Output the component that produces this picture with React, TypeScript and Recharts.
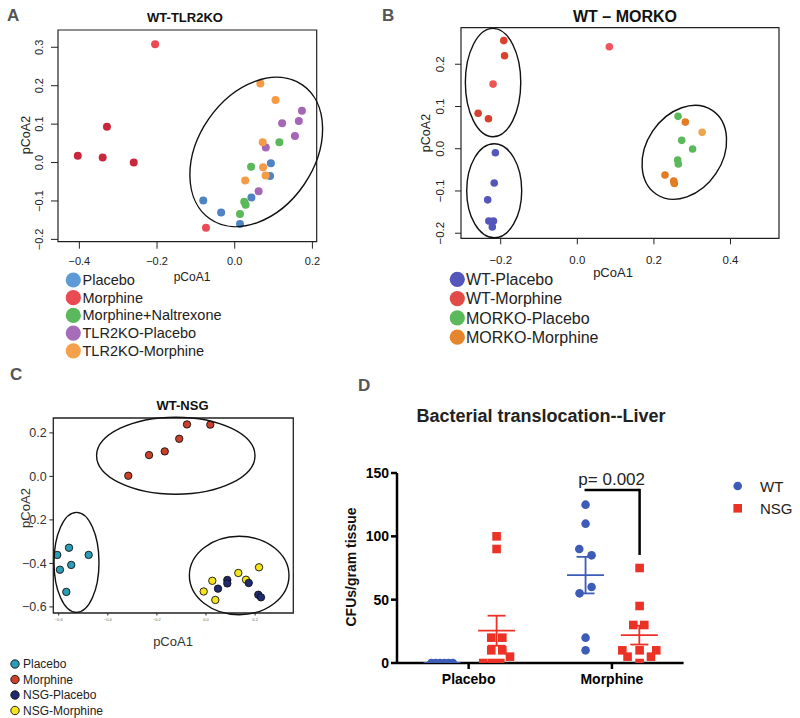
import React from "react";
import { ScatterChart, Scatter, XAxis, YAxis, ReferenceArea, ReferenceDot, ReferenceLine, ErrorBar } from "recharts";

const FONT = '"Liberation Sans", Arial, Helvetica, sans-serif';
const MINUS = "\u2212";
const fmt1 = (v: number) => (v < 0 ? MINUS : "") + Math.abs(v).toFixed(1);

// ---------- A: WT-TLR2KO, [pCoA1, pCoA2] ----------
const A_PLACEBO = [[-0.081, -0.099], [-0.035, -0.13], [0.0135, -0.16], [0.043, -0.091], [0.093, -0.002], [0.091, -0.035]];
const A_MORPHINE = [[-0.205, 0.308], [-0.404, 0.018], [-0.34, 0.013], [-0.329, 0.093], [-0.26, 0.0], [-0.074, -0.17]];
const A_MORPH_NALTREXONE = [[0.115, 0.053], [0.042, -0.011], [0.0245, -0.102], [0.028, -0.11], [0.0135, -0.134]];
const A_TLR2KO_PLACEBO = [[0.173, 0.135], [0.122, 0.102], [0.165, 0.108], [0.155, 0.069], [0.08, 0.039], [0.0615, -0.075]];
const A_TLR2KO_MORPHINE = [[0.066, 0.206], [0.105, 0.163], [0.072, 0.053], [0.073, -0.0125], [0.0795, -0.034], [0.027, -0.047]];
const A_X_TICKS = [-0.4, -0.2, 0, 0.2];
const A_Y_TICKS = [-0.2, -0.1, 0, 0.1, 0.2, 0.3];
const A_LABELS = ["Placebo", "Morphine", "Morphine+Naltrexone", "TLR2KO-Placebo", "TLR2KO-Morphine"];

// ---------- B: WT - MORKO ----------
const B_WT_PLACEBO = [[-0.214, -0.0095], [-0.217, -0.081], [-0.234, -0.121], [-0.231, -0.171], [-0.219, -0.171], [-0.222, -0.185]];
const B_WT_MORPHINE = [[-0.192, 0.256], [-0.19, 0.22], [-0.22, 0.153], [-0.259, 0.084], [-0.232, 0.071], [0.0836, 0.2414]];
const B_MORKO_PLACEBO = [[0.263, 0.0767], [0.2726, 0.0199], [0.301, -0.0007], [0.262, -0.0267], [0.2637, -0.036]];
const B_MORKO_MORPHINE = [[0.282, 0.063], [0.326, 0.0388], [0.229, -0.062], [0.2517, -0.0765], [0.2533, -0.082]];
const B_X_TICKS = [-0.2, 0, 0.2, 0.4];
const B_Y_TICKS = [-0.2, -0.1, 0, 0.1, 0.2];
const B_LABELS = ["WT-Placebo", "WT-Morphine", "MORKO-Placebo", "MORKO-Morphine"];

// ---------- C: WT-NSG ----------
const C_PLACEBO = [[-0.606, -0.361], [-0.558, -0.328], [-0.478, -0.361], [-0.595, -0.429], [-0.549, -0.407], [-0.569, -0.531]];
const C_MORPHINE = [[-0.3165, 0.003], [-0.232, 0.098], [-0.168, 0.115], [-0.109, 0.173], [-0.0774, 0.239], [0.0175, 0.238]];
const C_NSG_PLACEBO = [[0.0489, -0.516], [0.0868, -0.476], [0.0868, -0.492], [0.174, -0.49], [0.213, -0.544], [0.224, -0.556]];
const C_NSG_MORPHINE = [[-0.0094, -0.529], [0.0257, -0.48], [0.038, -0.568], [0.1316, -0.444], [0.216, -0.418], [0.163, -0.475]];
const C_X_TICKS = [-0.6, -0.4, -0.2, 0, 0.2];
const C_Y_TICKS = [-0.6, -0.4, -0.2, 0, 0.2];
const C_LABELS = ["Placebo", "Morphine", "NSG-Placebo", "NSG-Morphine"];

// ---------- D: Bacterial translocation (CFUs/gram tissue) ----------
const D_CATEGORIES = ["Placebo", "Morphine"];
const D_CAT_X = [1, 3];
const D_Y_TICKS = [0, 50, 100, 150];
const D_WT_PLACEBO = [0, 0, 0, 0, 0, 0];
const D_WT_PLACEBO_X = [0.48, 0.54, 0.6, 0.66, 0.72, 0.78];
const D_NSG_PLACEBO = [100, 90, 20, 20, 10, 10, 5, 0, 0, 0];
const D_NSG_PLACEBO_X = [1.39, 1.39, 1.316, 1.47, 1.316, 1.47, 1.577, 1.204, 1.326, 1.442];
const D_WT_MORPHINE = [125, 110, 90, 85, 60, 55, 20, 10];
const D_WT_MORPHINE_X = [2.632, 2.632, 2.544, 2.716, 2.716, 2.548, 2.632, 2.632];
const D_NSG_MORPHINE = [75, 45, 30, 30, 10, 10, 10, 5, 5, 0];
const D_NSG_MORPHINE_X = [3.386, 3.386, 3.298, 3.451, 3.145, 3.386, 3.619, 3.218, 3.545, 3.386];
const D_P_VALUE = "p= 0.002";

const WT_BLUE = "#3d5cb8";
const NSG_RED = "#ec3226";

type Pts = number[][];
type SeriesDef = { name: string; pts: Pts; fill: string | string[]; stroke?: string; r: number };
type EllipseDef = { x: number; y: number; rx: number; ry: number; rot: number };
type PcoaCfg = {
  box: number[]; yw: number; xh: number; mt: number; mr: number;
  xDomain: number[]; yDomain: number[]; xTicks: number[]; yTicks: number[];
  xTickSize: number; xTickMargin: number; yTickSize: number; yTickMargin: number;
  xFont: number; yFont: number; xColor: string; rotateY: boolean;
  series: SeriesDef[]; ellipses: EllipseDef[]; boxWidth: number;
};

const toXY = (s: SeriesDef) =>
  s.pts.map(([x, y], i) => ({ x, y, fill: Array.isArray(s.fill) ? s.fill[i] : s.fill }));

function RotTick(props: any) {
  const { x, y, payload, fs } = props;
  return (
    <text x={x} y={y} transform={`rotate(-90 ${x} ${y})`} textAnchor="middle" fontSize={fs} fill="#222" fontFamily={FONT}>
      {fmt1(payload.value)}
    </text>
  );
}

function PcoaChart({ cfg }: { cfg: PcoaCfg }) {
  const [x0, y0, x1, y1] = cfg.box;
  const width = x1 - x0 + cfg.yw + cfg.mr;
  const height = y1 - y0 + cfg.mt + cfg.xh;
  return (
    <div style={{ position: "absolute", left: x0 - cfg.yw, top: y0 - cfg.mt }}>
      <ScatterChart width={width} height={height} margin={{ top: cfg.mt, right: cfg.mr, bottom: 0, left: 0 }}>
        <XAxis
          type="number" dataKey="x" domain={cfg.xDomain} ticks={cfg.xTicks} allowDataOverflow interval={0}
          height={cfg.xh} axisLine={false} tickLine={{ stroke: "#222" }} tickSize={cfg.xTickSize} tickMargin={cfg.xTickMargin}
          tick={{ fontSize: cfg.xFont, fill: cfg.xColor, fontFamily: FONT }} tickFormatter={fmt1}
        />
        <YAxis
          type="number" dataKey="y" domain={cfg.yDomain} ticks={cfg.yTicks} allowDataOverflow interval={0}
          width={cfg.yw} axisLine={false} tickLine={{ stroke: "#222" }} tickSize={cfg.yTickSize} tickMargin={cfg.yTickMargin}
          tick={cfg.rotateY ? (p: any) => <RotTick {...p} fs={cfg.yFont} /> : { fontSize: cfg.yFont, fill: "#333", fontFamily: FONT }}
          tickFormatter={fmt1}
        />
        <ReferenceArea
          x1={cfg.xDomain[0]} x2={cfg.xDomain[1]} y1={cfg.yDomain[0]} y2={cfg.yDomain[1]}
          fill="none" stroke="#222" strokeWidth={cfg.boxWidth} ifOverflow="visible"
        />
        {cfg.series.map((s) => (
          <Scatter
            key={s.name} name={s.name} data={toXY(s)} isAnimationActive={false}
            shape={(p: any) => (
              <circle cx={p.cx} cy={p.cy} r={s.r} fill={p.payload.fill} stroke={s.stroke || "none"} strokeWidth={0.9} />
            )}
          />
        ))}
        {cfg.ellipses.map((e, i) => (
          <ReferenceDot
            key={i} x={e.x} y={e.y} r={1} ifOverflow="visible"
            shape={(p: any) => (
              <ellipse cx={p.cx} cy={p.cy} rx={e.rx} ry={e.ry} transform={`rotate(${e.rot} ${p.cx} ${p.cy})`} fill="none" stroke="#111" strokeWidth={1.4} />
            )}
          />
        ))}
      </ScatterChart>
    </div>
  );
}

const A_COLORS = ["#4f83c4", "#ea4a52", "#5cb85c", "#a566b6", "#f59b45"];
const A_LEGEND_COLORS = ["#5c9bd6", "#ea4a52", "#5cb85c", "#a66cb8", "#f5a04c"];
const A_CFG: PcoaCfg = {
  box: [58, 30, 316.7, 241.7], yw: 58, xh: 40, mt: 30, mr: 20,
  xDomain: [-0.455, 0.211], yDomain: [-0.206, 0.345], xTicks: A_X_TICKS, yTicks: A_Y_TICKS,
  xTickSize: 7, xTickMargin: 9, yTickSize: 7, yTickMargin: 7.7, xFont: 11, yFont: 11, xColor: "#222", rotateY: true, boxWidth: 1.2,
  series: [
    { name: A_LABELS[0], pts: A_PLACEBO, fill: A_COLORS[0], r: 4 },
    { name: A_LABELS[1], pts: A_MORPHINE, fill: ["#ec4b55", "#c9283c", "#c9283c", "#c9283c", "#c9283c", "#ec4b55"], r: 4 },
    { name: A_LABELS[2], pts: A_MORPH_NALTREXONE, fill: A_COLORS[2], r: 4 },
    { name: A_LABELS[3], pts: A_TLR2KO_PLACEBO, fill: A_COLORS[3], r: 4 },
    { name: A_LABELS[4], pts: A_TLR2KO_MORPHINE, fill: A_COLORS[4], r: 4 },
  ],
  ellipses: [{ x: 0.0554, y: 0.0276, rx: 81.4, ry: 57.9, rot: -55.5 }],
};

const B_COLORS = ["#5457b9", "#e24a48", "#5bb85b", "#e6862c"];
const B_CFG: PcoaCfg = {
  box: [461, 27.7, 779, 238.3], yw: 61, xh: 40, mt: 27.7, mr: 15,
  xDomain: [-0.3037, 0.5266], yDomain: [-0.212, 0.2865], xTicks: B_X_TICKS, yTicks: B_Y_TICKS,
  xTickSize: 6, xTickMargin: 11.5, yTickSize: 6, yTickMargin: 11, xFont: 11.5, yFont: 11.5, xColor: "#222", rotateY: true, boxWidth: 1.2,
  series: [
    { name: B_LABELS[0], pts: B_WT_PLACEBO, fill: B_COLORS[0], r: 3.8 },
    { name: B_LABELS[1], pts: B_WT_MORPHINE, fill: ["#d9432e", "#d9432e", "#ee5656", "#d6402f", "#d6402f", "#ee5560"], r: 3.8 },
    { name: B_LABELS[2], pts: B_MORKO_PLACEBO, fill: B_COLORS[2], r: 3.8 },
    { name: B_LABELS[3], pts: B_MORKO_MORPHINE, fill: ["#e27b22", "#efa54b", "#e27b22", "#e27b22", "#e27b22"], r: 3.8 },
  ],
  ellipses: [
    { x: -0.22, y: 0.1567, rx: 27.7, ry: 54.2, rot: 0 },
    { x: -0.217, y: -0.0994, rx: 27.5, ry: 47, rot: 0 },
    { x: 0.2794, y: -0.0085, rx: 38.1, ry: 50.4, rot: 33.7 },
  ],
};

const C_COLORS = ["#2b9db7", "#c9412b", "#1f2b6e", "#f5e41a"];
const C_CFG: PcoaCfg = {
  box: [53.3, 418.3, 293.3, 613.3], yw: 53.3, xh: 30, mt: 20, mr: 15,
  xDomain: [-0.622, 0.3556], yDomain: [-0.628, 0.2685], xTicks: C_X_TICKS, yTicks: C_Y_TICKS,
  xTickSize: 2.5, xTickMargin: 2.8, yTickSize: 4, yTickMargin: 2.6, xFont: 4, yFont: 12.5, xColor: "#666", rotateY: false, boxWidth: 1.3,
  series: [
    { name: C_LABELS[0], pts: C_PLACEBO, fill: C_COLORS[0], stroke: "#111", r: 3.7 },
    { name: C_LABELS[1], pts: C_MORPHINE, fill: C_COLORS[1], stroke: "#111", r: 3.7 },
    { name: C_LABELS[3], pts: C_NSG_MORPHINE, fill: C_COLORS[3], stroke: "#111", r: 3.7 },
    { name: C_LABELS[2], pts: C_NSG_PLACEBO, fill: C_COLORS[2], stroke: "#111", r: 3.7 },
  ],
  ellipses: [
    { x: -0.123, y: 0.0952, rx: 79.2, ry: 38.5, rot: 0 },
    { x: -0.5275, y: -0.3954, rx: 22.5, ry: 50, rot: 0 },
    { x: 0.1352, y: -0.4556, rx: 49.8, ry: 39.2, rot: 0 },
  ],
};

const avg = (a: number[]) => a.reduce((s, v) => s + v, 0) / a.length;
const sem = (a: number[]) => {
  const m = avg(a);
  return Math.sqrt(a.reduce((s, v) => s + (v - m) ** 2, 0) / (a.length - 1)) / Math.sqrt(a.length);
};
const pts = (vals: number[], xs: number[]) => vals.map((y, i) => ({ x: xs[i], y }));
const stat = (vals: number[], xs: number[]) => ({ x: avg(xs), y: avg(vals), err: sem(vals) });

function BacteriaChart() {
  const x0 = 396.7, y0 = 473.3, x1 = 683.3, y1 = 663.3;
  const yw = 60, mt = 20, mr = 10, xh = 40;
  const axisStyle = { stroke: "#000", strokeWidth: 2.5 };
  const tickStyle = { fontSize: 14, fontWeight: 700, fill: "#000", fontFamily: FONT };
  const wtStats = [stat(D_WT_PLACEBO, D_WT_PLACEBO_X), stat(D_WT_MORPHINE, D_WT_MORPHINE_X)];
  const nsgStats = [stat(D_NSG_PLACEBO, D_NSG_PLACEBO_X), stat(D_NSG_MORPHINE, D_NSG_MORPHINE_X)];
  const meanShape = (color: string) => (p: any) => (
    <line x1={p.cx - 18.5} x2={p.cx + 18.5} y1={p.cy} y2={p.cy} stroke={color} strokeWidth={1.8} />
  );
  return (
    <div style={{ position: "absolute", left: x0 - yw, top: y0 - mt }}>
      <ScatterChart width={x1 - x0 + yw + mr} height={y1 - y0 + mt + xh} margin={{ top: mt, right: mr, bottom: 0, left: 0 }}>
        <XAxis
          type="number" dataKey="x" domain={[0, 4]} ticks={D_CAT_X} allowDataOverflow interval={0} height={xh}
          axisLine={axisStyle} tickLine={axisStyle} tickSize={6} tickMargin={5.5} tick={tickStyle}
          tickFormatter={(v: number) => D_CATEGORIES[D_CAT_X.indexOf(v)]}
        />
        <YAxis
          type="number" dataKey="y" domain={[0, 150]} ticks={D_Y_TICKS} allowDataOverflow interval={0} width={yw}
          axisLine={axisStyle} tickLine={axisStyle} tickSize={6} tickMargin={2} tick={tickStyle}
        />
        <Scatter name="WT" data={[...pts(D_WT_PLACEBO, D_WT_PLACEBO_X), ...pts(D_WT_MORPHINE, D_WT_MORPHINE_X)]} isAnimationActive={false}
          shape={(p: any) => <circle cx={p.cx} cy={p.cy} r={4.3} fill={WT_BLUE} />} />
        <Scatter name="NSG" data={[...pts(D_NSG_PLACEBO, D_NSG_PLACEBO_X), ...pts(D_NSG_MORPHINE, D_NSG_MORPHINE_X)]} isAnimationActive={false}
          shape={(p: any) => <rect x={p.cx - 4.3} y={p.cy - 4.3} width={8.6} height={8.6} fill={NSG_RED} />} />
        <Scatter name="WT mean" data={wtStats} isAnimationActive={false} shape={meanShape(WT_BLUE)}>
          <ErrorBar dataKey="err" direction="y" width={9} stroke={WT_BLUE} strokeWidth={1.8} />
        </Scatter>
        <Scatter name="NSG mean" data={nsgStats} isAnimationActive={false} shape={meanShape(NSG_RED)}>
          <ErrorBar dataKey="err" direction="y" width={9} stroke={NSG_RED} strokeWidth={1.8} />
        </Scatter>
        <ReferenceLine segment={[{ x: 2.618, y: 136.5 }, { x: 3.386, y: 136.5 }]} stroke="#000" strokeWidth={2.5} ifOverflow="visible" />
        <ReferenceLine segment={[{ x: 3.386, y: 137.5 }, { x: 3.386, y: 85.3 }]} stroke="#000" strokeWidth={2.5} ifOverflow="visible" />
      </ScatterChart>
    </div>
  );
}

function Overlay() {
  const letter = (s: string, x: number, y: number) => (
    <text x={x} y={y} fontSize={17} fontWeight={700} fill="#555" fontFamily={FONT}>{s}</text>
  );
  return (
    <svg width={800} height={718} style={{ position: "absolute", left: 0, top: 0, pointerEvents: "none" }} fontFamily={FONT}>
      {letter("A", 7, 20.5)}
      {letter("B", 382, 20.5)}
      {letter("C", 10, 380)}
      {letter("D", 358, 390.5)}

      <text x={185} y={22} textAnchor="middle" fontSize={13} fontWeight={700} fill="#111">WT-TLR2KO</text>
      <text x={625} y={21.5} textAnchor="middle" fontSize={16} fontWeight={700} fill="#111">WT – MORKO</text>
      <text x={182.5} y={409.5} textAnchor="middle" fontSize={13} fontWeight={700} fill="#111">WT-NSG</text>
      <text x={541} y={421.5} textAnchor="middle" fontSize={18} fontWeight={700} fill="#222">Bacterial translocation--Liver</text>

      <text x={30} y={135} transform="rotate(-90 30 135)" textAnchor="middle" fontSize={12.5} fill="#222">pCoA2</text>
      <text x={192} y={281} textAnchor="middle" fontSize={12} fill="#222">pCoA1</text>
      <text x={430} y={133} transform="rotate(-90 430 133)" textAnchor="middle" fontSize={12.5} fill="#222">pCoA2</text>
      <text x={613} y={276.5} textAnchor="middle" fontSize={13} fill="#222">pCoA1</text>
      <text x={30} y={508} transform="rotate(-90 30 508)" textAnchor="middle" fontSize={13} fill="#333">pCoA2</text>
      <text x={173} y={646} textAnchor="middle" fontSize={13} fill="#333">pCoA1</text>
      <text x={356} y={567} transform="rotate(-90 356 567)" textAnchor="middle" fontSize={14} fontWeight={700} fill="#111">CFUs/gram tissue</text>

      {A_LABELS.map((l, i) => (
        <g key={l}>
          <circle cx={73.3} cy={280 + i * 17.7} r={7.6} fill={A_LEGEND_COLORS[i]} />
          <text x={82.5} y={285 + i * 17.7} fontSize={14.5} fill="#222">{l}</text>
        </g>
      ))}
      {B_LABELS.map((l, i) => (
        <g key={l}>
          <circle cx={457.3} cy={279.3 + i * 19.3} r={7.6} fill={B_COLORS[i]} />
          <text x={466} y={285 + i * 19.3} fontSize={16} fill="#222">{l}</text>
        </g>
      ))}
      {C_LABELS.map((l, i) => (
        <g key={l}>
          <circle cx={15} cy={664 + i * 15.5} r={4.2} fill={C_COLORS[i]} stroke="#111" strokeWidth={0.9} />
          <text x={23} y={668.2 + i * 15.5} fontSize={12} fill="#222">{l}</text>
        </g>
      ))}

      <text x={611.7} y={485} textAnchor="middle" fontSize={17} fill="#222">{D_P_VALUE}</text>
      <circle cx={737.7} cy={486} r={4.3} fill={WT_BLUE} />
      <text x={760} y={491.5} fontSize={15} fill="#222">WT</text>
      <rect x={733.4} y={504} width={8.6} height={8.6} fill={NSG_RED} />
      <text x={760} y={513.8} fontSize={15} fill="#222">NSG</text>
    </svg>
  );
}

export default function App() {
  return (
    <div style={{ position: "absolute", left: 0, top: 0, width: 800, height: 718, background: "#fff", fontFamily: FONT }}>
      <PcoaChart cfg={A_CFG} />
      <PcoaChart cfg={B_CFG} />
      <PcoaChart cfg={C_CFG} />
      <BacteriaChart />
      <Overlay />
    </div>
  );
}
